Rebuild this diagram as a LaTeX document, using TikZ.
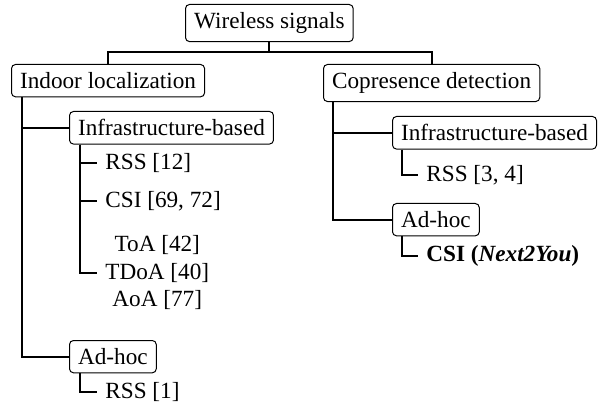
\documentclass[tikz,border=0pt]{standalone}
\usepackage{fontspec}
\setmainfont{Liberation Serif}
\usepackage{tikz}
\usetikzlibrary{calc}
\usetikzlibrary{positioning}

\newcommand{\treefont}{\fontsize{11.6}{13.75}\selectfont}

\begin{document}
\begin{tikzpicture}[x=0.5pt, y=-0.5pt,
    every node/.style={font=\treefont},
    box/.style={draw, line width=0.5pt, rounded corners=2pt, inner xsep=4.3pt, inner ysep=4pt, anchor=north west},
    leaf/.style={inner xsep=4pt, inner ysep=1pt, anchor=west, align=center},
    link/.style={line width=1pt}
  ]
  \useasboundingbox (0,0) rectangle (604,406);

  % categories
  \node[box] (ws) at (185,4) {Wireless signals};
  \node[box] (il) at (11,64) {Indoor localization};
  \node[box] (cd) at (323,64) {Copresence detection};

  % indoor localization side
  \node[box] (ib1) at (69,111) {Infrastructure-based};
  \node[box] (ah1) at (69,340) {Ad-hoc};
  \node[leaf] (rss1) at (97,163) {RSS [12]};
  \node[leaf] (csi1) at (97,201) {CSI [69, 72]};
  \node[leaf] (toa) at (97,273) {ToA [42]\\TDoA [40]\\AoA [77]};
  \node[leaf] (rss2) at (97,392) {RSS [1]};

  % copresence side
  \node[box] (ib2) at (392,116) {Infrastructure-based};
  \node[box] (ah2) at (392,203) {Ad-hoc};
  \node[leaf] (rss3) at (418,175) {RSS [3, 4]};
  \node[leaf] (csi2) at (418,256) {\textbf{CSI (\textit{Next2You})}};

  \draw[link] (ws.south) -- ++(0,10) coordinate (fork);
  \draw[link] (il.north) |- (fork) -| (cd.north);

  \draw[link] ($(il.south west)+(11,0)$) |- (ib1.west);
  \draw[link] ($(il.south west)+(11,0)$) |- (ah1.west);
  \draw[link] ($(ib1.south west)+(11,0)$) |- (rss1.west);
  \draw[link] ($(ib1.south west)+(11,0)$) |- (csi1.west);
  \draw[link] ($(ib1.south west)+(11,0)$) |- (toa.west);
  \draw[link] ($(ah1.south west)+(11,0)$) |- (rss2.west);

  \draw[link] ($(cd.south west)+(10,0)$) |- (ib2.west);
  \draw[link] ($(cd.south west)+(10,0)$) |- (ah2.west);
  \draw[link] ($(ib2.south west)+(10,0)$) |- (rss3.west);
  \draw[link] ($(ah2.south west)+(10,0)$) |- (csi2.west);
\end{tikzpicture}
\end{document}
